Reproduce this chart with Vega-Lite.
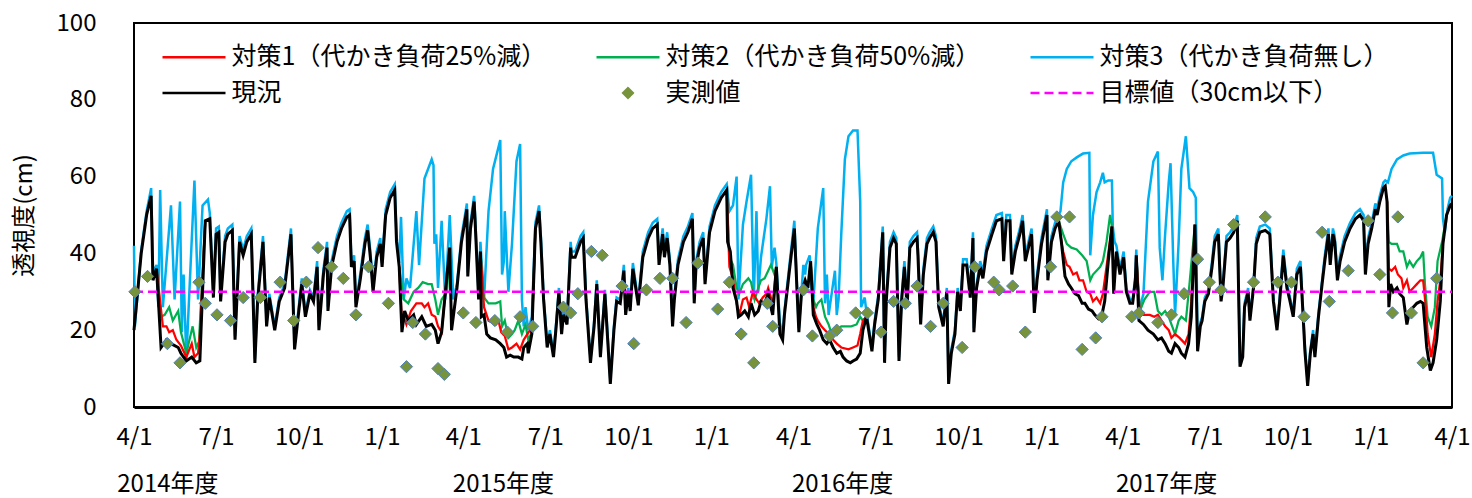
{
"$schema":"https://vega.github.io/schema/vega-lite/v6.json",
"width":1318,"height":384,
"autosize":{"type":"none"},
"padding":{"left":134,"top":23,"right":20,"bottom":91},
"background":"white",
"config":{"font":"Noto Sans CJK JP","view":{"stroke":"#000","strokeWidth":2},"axis":{"labelColor":"#000","titleColor":"#000","labelFont":"Noto Sans CJK JP","titleFont":"Noto Sans CJK JP"},"legend":{"labelFont":"Noto Sans CJK JP"}},
"datasets":{
"k":[
{"d":"2014-04-01","v":20},{"d":"2014-04-09","v":40},{"d":"2014-04-15","v":50},{"d":"2014-04-20","v":55},{"d":"2014-04-22","v":33},{"d":"2014-04-26","v":36},{"d":"2014-05-01","v":15.5},{"d":"2014-05-07","v":17.5},{"d":"2014-05-12","v":16.5},{"d":"2014-05-20","v":15.5},{"d":"2014-05-23","v":14},{"d":"2014-05-29","v":12},{"d":"2014-06-04","v":13},{"d":"2014-06-09","v":11.5},{"d":"2014-06-13","v":12},{"d":"2014-06-19","v":48.5},{"d":"2014-06-24","v":49},{"d":"2014-06-28","v":28.5},{"d":"2014-07-01","v":45},{"d":"2014-07-04","v":45.5},{"d":"2014-07-06","v":27.5},{"d":"2014-07-11","v":43},{"d":"2014-07-14","v":45},{"d":"2014-07-19","v":46},{"d":"2014-07-22","v":17.5},{"d":"2014-07-27","v":43},{"d":"2014-07-31","v":39.5},{"d":"2014-08-04","v":43},{"d":"2014-08-09","v":45},{"d":"2014-08-13","v":11.5},{"d":"2014-08-16","v":27.5},{"d":"2014-08-22","v":43},{"d":"2014-08-26","v":21},{"d":"2014-08-29","v":28.5},{"d":"2014-09-04","v":20},{"d":"2014-09-09","v":27.5},{"d":"2014-09-15","v":31},{"d":"2014-09-22","v":45},{"d":"2014-09-26","v":15},{"d":"2014-10-04","v":32},{"d":"2014-10-08","v":23.5},{"d":"2014-10-13","v":29.5},{"d":"2014-10-17","v":27.5},{"d":"2014-10-21","v":36.5},{"d":"2014-10-23","v":20},{"d":"2014-10-28","v":34.5},{"d":"2014-11-01","v":41.5},{"d":"2014-11-02","v":25},{"d":"2014-11-06","v":36.5},{"d":"2014-11-12","v":43},{"d":"2014-11-17","v":46.5},{"d":"2014-11-23","v":49.5},{"d":"2014-11-26","v":50},{"d":"2014-11-28","v":36.5},{"d":"2014-12-01","v":38},{"d":"2014-12-03","v":26},{"d":"2014-12-08","v":33.5},{"d":"2014-12-13","v":42.5},{"d":"2014-12-16","v":46},{"d":"2014-12-19","v":39},{"d":"2014-12-22","v":30},{"d":"2014-12-26","v":39},{"d":"2014-12-30","v":42.5},
{"d":"2015-01-01","v":36.5},{"d":"2015-01-05","v":50},{"d":"2015-01-10","v":54.5},{"d":"2015-01-15","v":56.5},{"d":"2015-01-17","v":43},{"d":"2015-01-20","v":36.5},{"d":"2015-01-23","v":19.5},{"d":"2015-01-26","v":25},{"d":"2015-01-30","v":22.5},{"d":"2015-02-05","v":24},{"d":"2015-02-08","v":21.5},{"d":"2015-02-14","v":23.5},{"d":"2015-02-19","v":21},{"d":"2015-02-25","v":21.5},{"d":"2015-03-01","v":20},{"d":"2015-03-04","v":16.5},{"d":"2015-03-08","v":19.5},{"d":"2015-03-12","v":29.5},{"d":"2015-03-17","v":41.5},{"d":"2015-03-19","v":20},{"d":"2015-03-25","v":31},{"d":"2015-03-30","v":43},{"d":"2015-04-05","v":51.5},{"d":"2015-04-06","v":34},{"d":"2015-04-09","v":46.5},{"d":"2015-04-13","v":53.5},{"d":"2015-04-14","v":49},{"d":"2015-04-18","v":28},{"d":"2015-04-20","v":40.5},{"d":"2015-04-21","v":23.5},{"d":"2015-04-24","v":24},{"d":"2015-04-27","v":19},{"d":"2015-05-01","v":18},{"d":"2015-05-07","v":17.5},{"d":"2015-05-12","v":16.5},{"d":"2015-05-16","v":15.5},{"d":"2015-05-19","v":13},{"d":"2015-05-23","v":13.5},{"d":"2015-05-27","v":13},{"d":"2015-06-01","v":13},{"d":"2015-06-05","v":12.5},{"d":"2015-06-07","v":15.5},{"d":"2015-06-11","v":16.5},{"d":"2015-06-12","v":14},{"d":"2015-06-16","v":19},{"d":"2015-06-20","v":46.5},{"d":"2015-06-24","v":51},{"d":"2015-06-26","v":43},{"d":"2015-06-29","v":28},{"d":"2015-07-03","v":15.5},{"d":"2015-07-06","v":19},{"d":"2015-07-10","v":13},{"d":"2015-07-13","v":21},{"d":"2015-07-16","v":30},{"d":"2015-07-19","v":19},{"d":"2015-07-21","v":24},{"d":"2015-07-25","v":21.5},{"d":"2015-07-29","v":41.5},{"d":"2015-07-30","v":39},{"d":"2015-08-03","v":39},{"d":"2015-08-09","v":43},{"d":"2015-08-12","v":44},{"d":"2015-08-15","v":28},{"d":"2015-08-20","v":11.5},{"d":"2015-08-24","v":21},{"d":"2015-08-27","v":32},{"d":"2015-08-31","v":13},{"d":"2015-09-05","v":29.5},{"d":"2015-09-11","v":6},{"d":"2015-09-15","v":20},{"d":"2015-09-18","v":27.5},{"d":"2015-09-22","v":27},{"d":"2015-09-26","v":35.5},{"d":"2015-09-28","v":24},{"d":"2015-10-01","v":30},{"d":"2015-10-03","v":25},{"d":"2015-10-06","v":36},{"d":"2015-10-12","v":26.5},{"d":"2015-10-17","v":39},{"d":"2015-10-23","v":44},{"d":"2015-10-28","v":46.5},{"d":"2015-11-02","v":47.5},{"d":"2015-11-04","v":37},{"d":"2015-11-08","v":45},{"d":"2015-11-10","v":39},{"d":"2015-11-13","v":44},{"d":"2015-11-16","v":37},{"d":"2015-11-19","v":21},{"d":"2015-11-21","v":28},{"d":"2015-11-25","v":37},{"d":"2015-12-01","v":43},{"d":"2015-12-06","v":45.5},{"d":"2015-12-11","v":49},{"d":"2015-12-13","v":27},{"d":"2015-12-15","v":36.5},{"d":"2015-12-19","v":41.5},{"d":"2015-12-23","v":44},{"d":"2015-12-25","v":32},{"d":"2015-12-30","v":45.5},
{"d":"2016-01-05","v":51},{"d":"2016-01-12","v":54.5},{"d":"2016-01-18","v":56.5},{"d":"2016-01-19","v":43},{"d":"2016-01-22","v":40.5},{"d":"2016-01-25","v":31},{"d":"2016-01-29","v":27.5},{"d":"2016-01-31","v":23.5},{"d":"2016-02-03","v":24},{"d":"2016-02-07","v":25},{"d":"2016-02-11","v":23.5},{"d":"2016-02-14","v":27},{"d":"2016-02-18","v":24},{"d":"2016-02-22","v":25},{"d":"2016-02-25","v":27.5},{"d":"2016-02-29","v":27},{"d":"2016-03-04","v":29.5},{"d":"2016-03-06","v":27},{"d":"2016-03-09","v":24},{"d":"2016-03-13","v":36.5},{"d":"2016-03-17","v":19},{"d":"2016-03-20","v":17.5},{"d":"2016-03-22","v":24},{"d":"2016-03-28","v":36.5},{"d":"2016-04-02","v":46.5},{"d":"2016-04-05","v":30},{"d":"2016-04-07","v":19.5},{"d":"2016-04-10","v":30},{"d":"2016-04-14","v":33},{"d":"2016-04-17","v":31},{"d":"2016-04-20","v":38},{"d":"2016-04-23","v":24},{"d":"2016-04-27","v":21.5},{"d":"2016-04-30","v":20},{"d":"2016-05-04","v":17.5},{"d":"2016-05-08","v":16.5},{"d":"2016-05-11","v":17.5},{"d":"2016-05-15","v":15.5},{"d":"2016-05-19","v":14},{"d":"2016-05-23","v":14.5},{"d":"2016-05-26","v":13},{"d":"2016-05-30","v":12},{"d":"2016-06-03","v":11.5},{"d":"2016-06-06","v":12},{"d":"2016-06-10","v":12.5},{"d":"2016-06-14","v":14},{"d":"2016-06-17","v":20},{"d":"2016-06-21","v":23.5},{"d":"2016-06-25","v":17.5},{"d":"2016-06-27","v":14.5},{"d":"2016-06-30","v":21.5},{"d":"2016-07-04","v":28},{"d":"2016-07-09","v":45.5},{"d":"2016-07-11","v":11.5},{"d":"2016-07-13","v":28},{"d":"2016-07-17","v":41.5},{"d":"2016-07-21","v":44},{"d":"2016-07-24","v":42.5},{"d":"2016-07-27","v":12},{"d":"2016-07-30","v":28},{"d":"2016-08-02","v":36.5},{"d":"2016-08-05","v":26},{"d":"2016-08-08","v":41.5},{"d":"2016-08-12","v":43},{"d":"2016-08-16","v":44},{"d":"2016-08-17","v":39.5},{"d":"2016-08-20","v":21.5},{"d":"2016-08-23","v":34.5},{"d":"2016-08-27","v":42.5},{"d":"2016-08-30","v":44},{"d":"2016-09-03","v":45.5},{"d":"2016-09-06","v":43},{"d":"2016-09-09","v":26},{"d":"2016-09-14","v":21},{"d":"2016-09-18","v":30},{"d":"2016-09-20","v":6},{"d":"2016-09-23","v":14},{"d":"2016-09-27","v":19},{"d":"2016-09-30","v":30},{"d":"2016-10-03","v":25},{"d":"2016-10-06","v":37},{"d":"2016-10-10","v":37},{"d":"2016-10-14","v":28.5},{"d":"2016-10-17","v":44},{"d":"2016-10-18","v":19.5},{"d":"2016-10-21","v":31},{"d":"2016-10-25","v":36.5},{"d":"2016-10-28","v":33.5},{"d":"2016-11-01","v":40.5},{"d":"2016-11-07","v":45},{"d":"2016-11-12","v":48.5},{"d":"2016-11-18","v":49},{"d":"2016-11-20","v":38},{"d":"2016-11-23","v":48.5},{"d":"2016-11-27","v":48.5},{"d":"2016-11-29","v":34.5},{"d":"2016-12-03","v":40.5},{"d":"2016-12-08","v":45},{"d":"2016-12-11","v":48.5},{"d":"2016-12-14","v":38},{"d":"2016-12-19","v":43},{"d":"2016-12-21","v":45},{"d":"2016-12-24","v":24.5},{"d":"2016-12-27","v":33},
{"d":"2017-01-01","v":42.5},{"d":"2017-01-05","v":47.5},{"d":"2017-01-07","v":50},{"d":"2017-01-08","v":33},{"d":"2017-01-12","v":43},{"d":"2017-01-16","v":46.5},{"d":"2017-01-20","v":48.5},{"d":"2017-01-23","v":43},{"d":"2017-01-27","v":34},{"d":"2017-01-31","v":32},{"d":"2017-02-03","v":31},{"d":"2017-02-07","v":29.5},{"d":"2017-02-11","v":29},{"d":"2017-02-15","v":27},{"d":"2017-02-18","v":27},{"d":"2017-02-22","v":25.5},{"d":"2017-02-26","v":25},{"d":"2017-03-01","v":24},{"d":"2017-03-05","v":23},{"d":"2017-03-09","v":24},{"d":"2017-03-12","v":27.5},{"d":"2017-03-16","v":38},{"d":"2017-03-20","v":47},{"d":"2017-03-22","v":29.5},{"d":"2017-03-25","v":40.5},{"d":"2017-03-29","v":34.5},{"d":"2017-04-02","v":39},{"d":"2017-04-05","v":30},{"d":"2017-04-09","v":27},{"d":"2017-04-12","v":27},{"d":"2017-04-15","v":33},{"d":"2017-04-16","v":39.5},{"d":"2017-04-19","v":22.5},{"d":"2017-04-24","v":21.5},{"d":"2017-04-29","v":20},{"d":"2017-05-05","v":19},{"d":"2017-05-10","v":17.5},{"d":"2017-05-14","v":18},{"d":"2017-05-18","v":16.5},{"d":"2017-05-22","v":14.5},{"d":"2017-05-25","v":14},{"d":"2017-05-29","v":16.5},{"d":"2017-06-02","v":15.5},{"d":"2017-06-05","v":14},{"d":"2017-06-09","v":13},{"d":"2017-06-13","v":16.5},{"d":"2017-06-16","v":23.5},{"d":"2017-06-20","v":47.5},{"d":"2017-06-23","v":14.5},{"d":"2017-06-26","v":21},{"d":"2017-06-28","v":22.5},{"d":"2017-07-01","v":27.5},{"d":"2017-07-05","v":29.5},{"d":"2017-07-09","v":36.5},{"d":"2017-07-12","v":43},{"d":"2017-07-16","v":45},{"d":"2017-07-19","v":27.5},{"d":"2017-07-21","v":31},{"d":"2017-07-25","v":43},{"d":"2017-07-29","v":44},{"d":"2017-08-02","v":45.5},{"d":"2017-08-06","v":48.5},{"d":"2017-08-09","v":10.5},{"d":"2017-08-12","v":13},{"d":"2017-08-14","v":26},{"d":"2017-08-18","v":30},{"d":"2017-08-20","v":22.5},{"d":"2017-08-24","v":31},{"d":"2017-08-27","v":42.5},{"d":"2017-08-31","v":45.5},{"d":"2017-09-06","v":46},{"d":"2017-09-11","v":45},{"d":"2017-09-15","v":27.5},{"d":"2017-09-19","v":20},{"d":"2017-09-22","v":27.5},{"d":"2017-09-26","v":39.5},{"d":"2017-09-30","v":31},{"d":"2017-10-03","v":28},{"d":"2017-10-07","v":23.5},{"d":"2017-10-11","v":34.5},{"d":"2017-10-15","v":36.5},{"d":"2017-10-18","v":23.5},{"d":"2017-10-20","v":14.5},{"d":"2017-10-23","v":5.5},{"d":"2017-10-26","v":14},{"d":"2017-10-29","v":19},{"d":"2017-10-31","v":13},{"d":"2017-11-04","v":23.5},{"d":"2017-11-08","v":32},{"d":"2017-11-11","v":38},{"d":"2017-11-15","v":45},{"d":"2017-11-17","v":37},{"d":"2017-11-20","v":45},{"d":"2017-11-22","v":43},{"d":"2017-11-25","v":33},{"d":"2017-11-28","v":38},{"d":"2017-12-03","v":43},{"d":"2017-12-09","v":46.5},{"d":"2017-12-15","v":49},{"d":"2017-12-20","v":50},{"d":"2017-12-24","v":48.5},{"d":"2017-12-26","v":34.5},{"d":"2017-12-29","v":42.5},
{"d":"2018-01-02","v":46.5},{"d":"2018-01-06","v":51.5},{"d":"2018-01-08","v":50},{"d":"2018-01-11","v":53.5},{"d":"2018-01-15","v":57},{"d":"2018-01-17","v":57.5},{"d":"2018-01-19","v":53.5},{"d":"2018-01-21","v":26},{"d":"2018-01-23","v":32},{"d":"2018-01-26","v":30},{"d":"2018-01-30","v":31},{"d":"2018-02-02","v":29.5},{"d":"2018-02-06","v":28.5},{"d":"2018-02-10","v":21.5},{"d":"2018-02-13","v":25},{"d":"2018-02-17","v":26},{"d":"2018-02-21","v":27},{"d":"2018-02-25","v":27.5},{"d":"2018-02-28","v":27},{"d":"2018-03-04","v":15.5},{"d":"2018-03-08","v":9.5},{"d":"2018-03-11","v":11.5},{"d":"2018-03-15","v":17.5},{"d":"2018-03-19","v":27.5},{"d":"2018-03-22","v":42.5},{"d":"2018-03-26","v":50},{"d":"2018-03-30","v":52.5},{"d":"2018-04-01","v":53}
],
"c":[
{"d":"2014-04-01","v":42},{"d":"2014-04-02","v":21},{"d":"2014-04-09","v":41},{"d":"2014-04-15","v":51},{"d":"2014-04-20","v":57},{"d":"2014-04-22","v":35},{"d":"2014-04-26","v":37},{"d":"2014-04-28","v":26},{"d":"2014-04-30","v":56.5},{"d":"2014-05-03","v":26},{"d":"2014-05-12","v":52.5},{"d":"2014-05-16","v":28},{"d":"2014-05-22","v":53.5},{"d":"2014-05-24","v":19.5},{"d":"2014-05-26","v":34.5},{"d":"2014-05-29","v":12.5},{"d":"2014-06-07","v":59},{"d":"2014-06-11","v":28},{"d":"2014-06-16","v":52.5},{"d":"2014-06-22","v":54},{"d":"2014-06-24","v":50.5},{"d":"2014-06-28","v":29.5},{"d":"2014-07-01","v":46.5},{"d":"2014-07-04","v":47},{"d":"2014-07-06","v":28.5},{"d":"2014-07-11","v":44.5},{"d":"2014-07-14","v":46.5},{"d":"2014-07-19","v":47.5},{"d":"2014-07-22","v":18.5},{"d":"2014-07-27","v":44.5},{"d":"2014-07-31","v":41},{"d":"2014-08-04","v":44.5},{"d":"2014-08-09","v":46.5},{"d":"2014-08-13","v":12.5},{"d":"2014-08-16","v":29},{"d":"2014-08-22","v":44.5},{"d":"2014-08-26","v":22},{"d":"2014-08-29","v":29.5},{"d":"2014-09-04","v":21},{"d":"2014-09-09","v":28.5},{"d":"2014-09-15","v":32},{"d":"2014-09-22","v":46.5},{"d":"2014-09-26","v":16},{"d":"2014-10-04","v":33.5},{"d":"2014-10-08","v":24.5},{"d":"2014-10-13","v":30.5},{"d":"2014-10-17","v":28.5},{"d":"2014-10-21","v":38},{"d":"2014-10-23","v":21},{"d":"2014-10-28","v":36},{"d":"2014-11-01","v":43},{"d":"2014-11-02","v":26},{"d":"2014-11-06","v":38},{"d":"2014-11-12","v":44.5},{"d":"2014-11-17","v":48},{"d":"2014-11-23","v":51},{"d":"2014-11-26","v":51.5},{"d":"2014-11-28","v":37.5},{"d":"2014-12-01","v":39.5},{"d":"2014-12-03","v":27},{"d":"2014-12-08","v":35},{"d":"2014-12-13","v":44},{"d":"2014-12-16","v":47.5},{"d":"2014-12-19","v":40.5},{"d":"2014-12-22","v":31},{"d":"2014-12-26","v":40.5},{"d":"2014-12-30","v":44},
{"d":"2015-01-01","v":37.5},{"d":"2015-01-05","v":51.5},{"d":"2015-01-10","v":56},{"d":"2015-01-15","v":58},{"d":"2015-01-17","v":44.5},{"d":"2015-01-20","v":37.5},{"d":"2015-01-22","v":49.5},{"d":"2015-01-25","v":28},{"d":"2015-01-28","v":33.5},{"d":"2015-02-01","v":31},{"d":"2015-02-08","v":51},{"d":"2015-02-11","v":37},{"d":"2015-02-17","v":59.5},{"d":"2015-02-25","v":64.5},{"d":"2015-02-27","v":63},{"d":"2015-02-28","v":42.5},{"d":"2015-03-02","v":45},{"d":"2015-03-04","v":31},{"d":"2015-03-08","v":48.5},{"d":"2015-03-12","v":28},{"d":"2015-03-17","v":50},{"d":"2015-03-21","v":28},{"d":"2015-03-25","v":32},{"d":"2015-03-30","v":44.5},{"d":"2015-04-05","v":53},{"d":"2015-04-06","v":35},{"d":"2015-04-09","v":48},{"d":"2015-04-13","v":55},{"d":"2015-04-14","v":50.5},{"d":"2015-04-18","v":29},{"d":"2015-04-20","v":43},{"d":"2015-04-24","v":28},{"d":"2015-04-29","v":51},{"d":"2015-05-04","v":62},{"d":"2015-05-12","v":69.5},{"d":"2015-05-14","v":34.5},{"d":"2015-05-16","v":38},{"d":"2015-05-17","v":51},{"d":"2015-05-21","v":30},{"d":"2015-05-25","v":42.5},{"d":"2015-05-30","v":64},{"d":"2015-06-03","v":68.5},{"d":"2015-06-05","v":28},{"d":"2015-06-07","v":21},{"d":"2015-06-09","v":26},{"d":"2015-06-12","v":20},{"d":"2015-06-16","v":23.5},{"d":"2015-06-20","v":48},{"d":"2015-06-24","v":52.5},{"d":"2015-06-26","v":44.5},{"d":"2015-06-29","v":29},{"d":"2015-07-03","v":16.5},{"d":"2015-07-06","v":20},{"d":"2015-07-10","v":14},{"d":"2015-07-13","v":22},{"d":"2015-07-16","v":31},{"d":"2015-07-19","v":20},{"d":"2015-07-21","v":25},{"d":"2015-07-25","v":22.5},{"d":"2015-07-29","v":43},{"d":"2015-07-30","v":40.5},{"d":"2015-08-03","v":40.5},{"d":"2015-08-09","v":44.5},{"d":"2015-08-12","v":45.5},{"d":"2015-08-15","v":29},{"d":"2015-08-20","v":12.5},{"d":"2015-08-24","v":22},{"d":"2015-08-27","v":33},{"d":"2015-08-31","v":14},{"d":"2015-09-05","v":30.5},{"d":"2015-09-11","v":7},{"d":"2015-09-15","v":21},{"d":"2015-09-18","v":28.5},{"d":"2015-09-22","v":28},{"d":"2015-09-26","v":37},{"d":"2015-09-28","v":25},{"d":"2015-10-01","v":31},{"d":"2015-10-03","v":26},{"d":"2015-10-06","v":37.5},{"d":"2015-10-12","v":27.5},{"d":"2015-10-17","v":40.5},{"d":"2015-10-23","v":45.5},{"d":"2015-10-28","v":48},{"d":"2015-11-02","v":49},{"d":"2015-11-04","v":38.5},{"d":"2015-11-08","v":46.5},{"d":"2015-11-10","v":40.5},{"d":"2015-11-13","v":45.5},{"d":"2015-11-16","v":38.5},{"d":"2015-11-19","v":22},{"d":"2015-11-21","v":29},{"d":"2015-11-25","v":38.5},{"d":"2015-12-01","v":44.5},{"d":"2015-12-06","v":47},{"d":"2015-12-11","v":50.5},{"d":"2015-12-13","v":28},{"d":"2015-12-15","v":38},{"d":"2015-12-19","v":43},{"d":"2015-12-23","v":45.5},{"d":"2015-12-25","v":33},{"d":"2015-12-30","v":47},
{"d":"2016-01-05","v":52.5},{"d":"2016-01-12","v":56},{"d":"2016-01-18","v":58},{"d":"2016-01-21","v":51},{"d":"2016-01-25","v":52.5},{"d":"2016-01-29","v":60},{"d":"2016-01-31","v":28},{"d":"2016-02-05","v":47.5},{"d":"2016-02-09","v":53.5},{"d":"2016-02-14","v":60.5},{"d":"2016-02-17","v":28},{"d":"2016-02-20","v":51},{"d":"2016-02-22","v":30},{"d":"2016-02-25","v":39},{"d":"2016-03-02","v":49},{"d":"2016-03-06","v":57.5},{"d":"2016-03-08","v":36.5},{"d":"2016-03-11","v":41.5},{"d":"2016-03-13","v":37.5},{"d":"2016-03-17","v":22},{"d":"2016-03-20","v":18.5},{"d":"2016-03-22","v":25},{"d":"2016-03-28","v":38},{"d":"2016-04-02","v":48.5},{"d":"2016-04-05","v":31},{"d":"2016-04-07","v":20.5},{"d":"2016-04-12","v":37},{"d":"2016-04-14","v":34.5},{"d":"2016-04-15","v":37},{"d":"2016-04-19","v":39.5},{"d":"2016-04-21","v":31},{"d":"2016-04-23","v":27},{"d":"2016-04-28","v":46.5},{"d":"2016-05-04","v":57},{"d":"2016-05-06","v":27},{"d":"2016-05-08","v":34.5},{"d":"2016-05-10","v":24},{"d":"2016-05-17","v":35.5},{"d":"2016-05-19","v":24},{"d":"2016-05-21","v":28},{"d":"2016-05-24","v":45},{"d":"2016-05-28","v":64.5},{"d":"2016-06-01","v":70.5},{"d":"2016-06-06","v":72},{"d":"2016-06-11","v":72},{"d":"2016-06-14","v":53.5},{"d":"2016-06-15","v":26},{"d":"2016-06-19","v":28.5},{"d":"2016-06-21","v":24.5},{"d":"2016-06-25","v":18.5},{"d":"2016-06-27","v":15.5},{"d":"2016-06-30","v":22.5},{"d":"2016-07-04","v":29},{"d":"2016-07-09","v":47},{"d":"2016-07-11","v":12.5},{"d":"2016-07-13","v":29},{"d":"2016-07-17","v":43},{"d":"2016-07-21","v":45.5},{"d":"2016-07-24","v":44},{"d":"2016-07-27","v":13},{"d":"2016-07-30","v":29},{"d":"2016-08-02","v":38},{"d":"2016-08-05","v":27},{"d":"2016-08-08","v":43},{"d":"2016-08-12","v":44.5},{"d":"2016-08-16","v":45.5},{"d":"2016-08-17","v":41},{"d":"2016-08-20","v":22.5},{"d":"2016-08-23","v":36},{"d":"2016-08-27","v":44},{"d":"2016-08-30","v":45.5},{"d":"2016-09-03","v":47},{"d":"2016-09-06","v":44.5},{"d":"2016-09-09","v":27},{"d":"2016-09-14","v":22},{"d":"2016-09-18","v":31},{"d":"2016-09-20","v":7},{"d":"2016-09-23","v":15},{"d":"2016-09-27","v":20},{"d":"2016-09-30","v":31},{"d":"2016-10-03","v":26},{"d":"2016-10-06","v":38.5},{"d":"2016-10-10","v":38.5},{"d":"2016-10-14","v":29.5},{"d":"2016-10-17","v":45.5},{"d":"2016-10-18","v":20.5},{"d":"2016-10-21","v":32},{"d":"2016-10-25","v":38},{"d":"2016-10-28","v":35},{"d":"2016-11-01","v":42},{"d":"2016-11-07","v":46.5},{"d":"2016-11-12","v":50},{"d":"2016-11-18","v":50.5},{"d":"2016-11-20","v":39.5},{"d":"2016-11-23","v":50},{"d":"2016-11-27","v":50},{"d":"2016-11-29","v":35.5},{"d":"2016-12-03","v":42},{"d":"2016-12-08","v":46.5},{"d":"2016-12-11","v":50},{"d":"2016-12-14","v":39.5},{"d":"2016-12-19","v":44.5},{"d":"2016-12-21","v":46.5},{"d":"2016-12-24","v":25.5},{"d":"2016-12-27","v":34.5},
{"d":"2017-01-01","v":44},{"d":"2017-01-05","v":49},{"d":"2017-01-07","v":51.5},{"d":"2017-01-08","v":34},{"d":"2017-01-12","v":44.5},{"d":"2017-01-16","v":48},{"d":"2017-01-20","v":50},{"d":"2017-01-22","v":51},{"d":"2017-01-25","v":58.5},{"d":"2017-01-29","v":62},{"d":"2017-02-03","v":64},{"d":"2017-02-09","v":65},{"d":"2017-02-16","v":66},{"d":"2017-02-23","v":66.2},{"d":"2017-02-24","v":39.5},{"d":"2017-02-26","v":46.5},{"d":"2017-02-27","v":50},{"d":"2017-03-03","v":56},{"d":"2017-03-07","v":58.5},{"d":"2017-03-10","v":61},{"d":"2017-03-12","v":58.5},{"d":"2017-03-16","v":59},{"d":"2017-03-20","v":59},{"d":"2017-03-21","v":47},{"d":"2017-03-23","v":43},{"d":"2017-03-25","v":42},{"d":"2017-03-29","v":36},{"d":"2017-04-02","v":40.5},{"d":"2017-04-05","v":31},{"d":"2017-04-09","v":28},{"d":"2017-04-12","v":28},{"d":"2017-04-15","v":34},{"d":"2017-04-16","v":41},{"d":"2017-04-19","v":25},{"d":"2017-04-24","v":29.5},{"d":"2017-04-29","v":53.5},{"d":"2017-05-05","v":64},{"d":"2017-05-10","v":66.5},{"d":"2017-05-12","v":41.5},{"d":"2017-05-15","v":33},{"d":"2017-05-18","v":45},{"d":"2017-05-22","v":58.5},{"d":"2017-05-24","v":63.5},{"d":"2017-05-27","v":38},{"d":"2017-05-29","v":24},{"d":"2017-06-02","v":43},{"d":"2017-06-05","v":62},{"d":"2017-06-10","v":70.5},{"d":"2017-06-14","v":57},{"d":"2017-06-18","v":56},{"d":"2017-06-21","v":54.5},{"d":"2017-06-23","v":16},{"d":"2017-06-26","v":22},{"d":"2017-06-28","v":23.5},{"d":"2017-07-01","v":28.5},{"d":"2017-07-05","v":30.5},{"d":"2017-07-09","v":38},{"d":"2017-07-12","v":44.5},{"d":"2017-07-16","v":46.5},{"d":"2017-07-19","v":28.5},{"d":"2017-07-21","v":32},{"d":"2017-07-25","v":44.5},{"d":"2017-07-29","v":45.5},{"d":"2017-08-02","v":47},{"d":"2017-08-06","v":50},{"d":"2017-08-09","v":11.5},{"d":"2017-08-12","v":14},{"d":"2017-08-14","v":27},{"d":"2017-08-18","v":31},{"d":"2017-08-20","v":23.5},{"d":"2017-08-24","v":32},{"d":"2017-08-27","v":44},{"d":"2017-08-31","v":47},{"d":"2017-09-06","v":47.5},{"d":"2017-09-11","v":46.5},{"d":"2017-09-15","v":28.5},{"d":"2017-09-19","v":21},{"d":"2017-09-22","v":28.5},{"d":"2017-09-26","v":41},{"d":"2017-09-30","v":32},{"d":"2017-10-03","v":29},{"d":"2017-10-07","v":24.5},{"d":"2017-10-11","v":36},{"d":"2017-10-15","v":38},{"d":"2017-10-18","v":24.5},{"d":"2017-10-20","v":15.5},{"d":"2017-10-23","v":6.5},{"d":"2017-10-26","v":15},{"d":"2017-10-29","v":20},{"d":"2017-10-31","v":14},{"d":"2017-11-04","v":24.5},{"d":"2017-11-08","v":33},{"d":"2017-11-11","v":39.5},{"d":"2017-11-15","v":46.5},{"d":"2017-11-17","v":38.5},{"d":"2017-11-20","v":46.5},{"d":"2017-11-22","v":44.5},{"d":"2017-11-25","v":34},{"d":"2017-11-28","v":39.5},{"d":"2017-12-03","v":44.5},{"d":"2017-12-09","v":48},{"d":"2017-12-15","v":50.5},{"d":"2017-12-20","v":51.5},{"d":"2017-12-24","v":50},{"d":"2017-12-26","v":35.5},{"d":"2017-12-29","v":44},
{"d":"2018-01-02","v":48},{"d":"2018-01-06","v":53},{"d":"2018-01-08","v":51.5},{"d":"2018-01-11","v":55},{"d":"2018-01-15","v":58.5},{"d":"2018-01-17","v":59},{"d":"2018-01-20","v":58.5},{"d":"2018-01-24","v":62},{"d":"2018-01-30","v":64.5},{"d":"2018-02-06","v":65.5},{"d":"2018-02-13","v":66},{"d":"2018-02-28","v":66.2},{"d":"2018-03-11","v":66.2},{"d":"2018-03-15","v":60.5},{"d":"2018-03-21","v":59.5},{"d":"2018-03-22","v":49},{"d":"2018-03-24","v":45.5},{"d":"2018-03-27","v":51.5},{"d":"2018-03-30","v":54.5},{"d":"2018-04-01","v":55}
],
"r":[
{"s":1,"d":"2014-04-26","v":36},{"s":1,"d":"2014-05-03","v":21},{"s":1,"d":"2014-05-07","v":21},{"s":1,"d":"2014-05-10","v":19.5},{"s":1,"d":"2014-05-14","v":20},{"s":1,"d":"2014-05-18","v":17.5},{"s":1,"d":"2014-05-23","v":16},{"s":1,"d":"2014-05-29","v":13},{"s":1,"d":"2014-06-04","v":16.5},{"s":1,"d":"2014-06-07","v":13},{"s":1,"d":"2014-06-11","v":14},{"s":1,"d":"2014-06-13","v":19},{"s":1,"d":"2014-06-19","v":48.5},
{"s":2,"d":"2015-01-20","v":36.5},{"s":2,"d":"2015-01-23","v":22},{"s":2,"d":"2015-01-25","v":23.5},{"s":2,"d":"2015-01-28","v":21.5},{"s":2,"d":"2015-02-02","v":25},{"s":2,"d":"2015-02-08","v":27},{"s":2,"d":"2015-02-14","v":27},{"s":2,"d":"2015-02-17","v":26},{"s":2,"d":"2015-02-21","v":27},{"s":2,"d":"2015-02-25","v":24},{"s":2,"d":"2015-03-01","v":23.5},{"s":2,"d":"2015-03-04","v":21},{"s":2,"d":"2015-03-08","v":19.5},{"s":2,"d":"2015-03-12","v":29.5},{"s":2,"d":"2015-03-17","v":41.5},
{"s":3,"d":"2015-04-20","v":40.5},{"s":3,"d":"2015-04-24","v":26},{"s":3,"d":"2015-04-29","v":22.5},{"s":3,"d":"2015-05-07","v":21.5},{"s":3,"d":"2015-05-10","v":22.5},{"s":3,"d":"2015-05-13","v":19.5},{"s":3,"d":"2015-05-17","v":18.5},{"s":3,"d":"2015-05-21","v":15},{"s":3,"d":"2015-05-25","v":15.5},{"s":3,"d":"2015-05-30","v":16.5},{"s":3,"d":"2015-06-03","v":15},{"s":3,"d":"2015-06-07","v":17.5},{"s":3,"d":"2015-06-11","v":19},{"s":3,"d":"2015-06-14","v":20},{"s":3,"d":"2015-06-16","v":19},{"s":3,"d":"2015-06-20","v":46.5},
{"s":4,"d":"2016-01-18","v":56.5},{"s":4,"d":"2016-01-21","v":36.5},{"s":4,"d":"2016-01-25","v":33.5},{"s":4,"d":"2016-01-29","v":27},{"s":4,"d":"2016-02-01","v":24},{"s":4,"d":"2016-02-05","v":28},{"s":4,"d":"2016-02-09","v":28.5},{"s":4,"d":"2016-02-12","v":26},{"s":4,"d":"2016-02-16","v":30},{"s":4,"d":"2016-02-20","v":28},{"s":4,"d":"2016-02-23","v":27},{"s":4,"d":"2016-02-27","v":28.5},{"s":4,"d":"2016-03-02","v":29.5},{"s":4,"d":"2016-03-04","v":31},{"s":4,"d":"2016-03-07","v":28.5},{"s":4,"d":"2016-03-09","v":26},{"s":4,"d":"2016-03-13","v":36.5},
{"s":5,"d":"2016-04-20","v":38},{"s":5,"d":"2016-04-23","v":26},{"s":5,"d":"2016-04-26","v":23.5},{"s":5,"d":"2016-04-28","v":22.5},{"s":5,"d":"2016-05-02","v":21},{"s":5,"d":"2016-05-06","v":20},{"s":5,"d":"2016-05-10","v":19},{"s":5,"d":"2016-05-15","v":17.5},{"s":5,"d":"2016-05-19","v":16.5},{"s":5,"d":"2016-05-24","v":15.5},{"s":5,"d":"2016-06-01","v":15},{"s":5,"d":"2016-06-06","v":15.5},{"s":5,"d":"2016-06-11","v":16},{"s":5,"d":"2016-06-14","v":19},{"s":5,"d":"2016-06-17","v":22.5},{"s":5,"d":"2016-06-21","v":23.5},
{"s":6,"d":"2017-01-20","v":48.5},{"s":6,"d":"2017-01-23","v":43},{"s":6,"d":"2017-01-25","v":40.5},{"s":6,"d":"2017-01-29","v":37},{"s":6,"d":"2017-02-01","v":36.5},{"s":6,"d":"2017-02-05","v":34.5},{"s":6,"d":"2017-02-09","v":35},{"s":6,"d":"2017-02-12","v":33},{"s":6,"d":"2017-02-16","v":33},{"s":6,"d":"2017-02-20","v":30},{"s":6,"d":"2017-02-24","v":29.5},{"s":6,"d":"2017-02-27","v":27.5},{"s":6,"d":"2017-03-03","v":28.5},{"s":6,"d":"2017-03-07","v":27},{"s":6,"d":"2017-03-10","v":29.5},{"s":6,"d":"2017-03-14","v":36.5},{"s":6,"d":"2017-03-16","v":40},{"s":6,"d":"2017-03-20","v":47},
{"s":7,"d":"2017-04-16","v":39.5},{"s":7,"d":"2017-04-20","v":24},{"s":7,"d":"2017-04-25","v":24},{"s":7,"d":"2017-05-01","v":24},{"s":7,"d":"2017-05-06","v":23.5},{"s":7,"d":"2017-05-10","v":24},{"s":7,"d":"2017-05-14","v":22.5},{"s":7,"d":"2017-05-18","v":21},{"s":7,"d":"2017-05-22","v":20},{"s":7,"d":"2017-05-25","v":18},{"s":7,"d":"2017-05-29","v":19},{"s":7,"d":"2017-06-03","v":18},{"s":7,"d":"2017-06-09","v":16.5},{"s":7,"d":"2017-06-13","v":19},{"s":7,"d":"2017-06-16","v":27.5},{"s":7,"d":"2017-06-20","v":47.5},
{"s":8,"d":"2018-01-19","v":53.5},{"s":8,"d":"2018-01-21","v":36},{"s":8,"d":"2018-01-24","v":35.5},{"s":8,"d":"2018-01-28","v":36.5},{"s":8,"d":"2018-01-31","v":34.5},{"s":8,"d":"2018-02-04","v":33.5},{"s":8,"d":"2018-02-06","v":31},{"s":8,"d":"2018-02-10","v":33},{"s":8,"d":"2018-02-13","v":30},{"s":8,"d":"2018-02-17","v":31},{"s":8,"d":"2018-02-21","v":32},{"s":8,"d":"2018-02-25","v":33},{"s":8,"d":"2018-02-28","v":33},{"s":8,"d":"2018-03-03","v":26},{"s":8,"d":"2018-03-05","v":19},{"s":8,"d":"2018-03-09","v":13},{"s":8,"d":"2018-03-13","v":19},{"s":8,"d":"2018-03-16","v":27.5},{"s":8,"d":"2018-03-19","v":33},{"s":8,"d":"2018-03-22","v":42.5}
],
"g":[
{"s":1,"d":"2014-04-26","v":36},{"s":1,"d":"2014-05-01","v":23.5},{"s":1,"d":"2014-05-05","v":24},{"s":1,"d":"2014-05-10","v":26},{"s":1,"d":"2014-05-14","v":22.5},{"s":1,"d":"2014-05-20","v":25},{"s":1,"d":"2014-05-23","v":19.5},{"s":1,"d":"2014-05-29","v":14},{"s":1,"d":"2014-06-05","v":21},{"s":1,"d":"2014-06-09","v":15.5},{"s":1,"d":"2014-06-12","v":17},{"s":1,"d":"2014-06-19","v":48.5},
{"s":2,"d":"2015-01-20","v":36.5},{"s":2,"d":"2015-01-25","v":28},{"s":2,"d":"2015-01-30","v":27},{"s":2,"d":"2015-02-05","v":30},{"s":2,"d":"2015-02-10","v":31},{"s":2,"d":"2015-02-15","v":32.5},{"s":2,"d":"2015-02-21","v":32},{"s":2,"d":"2015-02-25","v":32},{"s":2,"d":"2015-03-01","v":28},{"s":2,"d":"2015-03-04","v":24},{"s":2,"d":"2015-03-08","v":28},{"s":2,"d":"2015-03-14","v":30},{"s":2,"d":"2015-03-17","v":41.5},
{"s":3,"d":"2015-04-20","v":40.5},{"s":3,"d":"2015-04-24","v":28.5},{"s":3,"d":"2015-04-29","v":27},{"s":3,"d":"2015-05-07","v":27},{"s":3,"d":"2015-05-12","v":27.5},{"s":3,"d":"2015-05-14","v":21},{"s":3,"d":"2015-05-17","v":22.5},{"s":3,"d":"2015-05-21","v":18},{"s":3,"d":"2015-05-25","v":19},{"s":3,"d":"2015-05-28","v":20},{"s":3,"d":"2015-06-01","v":22.5},{"s":3,"d":"2015-06-05","v":19},{"s":3,"d":"2015-06-09","v":21.5},{"s":3,"d":"2015-06-12","v":17.5},{"s":3,"d":"2015-06-16","v":19.5},{"s":3,"d":"2015-06-20","v":46.5},
{"s":4,"d":"2016-01-18","v":56.5},{"s":4,"d":"2016-01-21","v":39},{"s":4,"d":"2016-01-25","v":37},{"s":4,"d":"2016-01-29","v":31},{"s":4,"d":"2016-02-01","v":29.5},{"s":4,"d":"2016-02-05","v":32},{"s":4,"d":"2016-02-11","v":33.5},{"s":4,"d":"2016-02-14","v":32.5},{"s":4,"d":"2016-02-18","v":28},{"s":4,"d":"2016-02-22","v":31},{"s":4,"d":"2016-02-25","v":33},{"s":4,"d":"2016-02-29","v":33.5},{"s":4,"d":"2016-03-04","v":35.5},{"s":4,"d":"2016-03-07","v":37},{"s":4,"d":"2016-03-11","v":34.5},{"s":4,"d":"2016-03-13","v":36.5},
{"s":5,"d":"2016-04-20","v":38},{"s":5,"d":"2016-04-23","v":28},{"s":5,"d":"2016-04-26","v":26},{"s":5,"d":"2016-04-28","v":27},{"s":5,"d":"2016-05-02","v":28},{"s":5,"d":"2016-05-06","v":23.5},{"s":5,"d":"2016-05-10","v":21.5},{"s":5,"d":"2016-05-12","v":20},{"s":5,"d":"2016-05-19","v":20},{"s":5,"d":"2016-05-24","v":21},{"s":5,"d":"2016-05-30","v":21},{"s":5,"d":"2016-06-04","v":21},{"s":5,"d":"2016-06-10","v":21.5},{"s":5,"d":"2016-06-14","v":23.5},{"s":5,"d":"2016-06-17","v":22.5},{"s":5,"d":"2016-06-21","v":23.5},
{"s":6,"d":"2017-01-20","v":48.5},{"s":6,"d":"2017-01-25","v":45},{"s":6,"d":"2017-01-29","v":42.5},{"s":6,"d":"2017-02-03","v":41.5},{"s":6,"d":"2017-02-09","v":41},{"s":6,"d":"2017-02-15","v":39.5},{"s":6,"d":"2017-02-20","v":38},{"s":6,"d":"2017-02-24","v":33},{"s":6,"d":"2017-02-27","v":34.5},{"s":6,"d":"2017-03-03","v":35.5},{"s":6,"d":"2017-03-07","v":36.5},{"s":6,"d":"2017-03-10","v":38},{"s":6,"d":"2017-03-14","v":43},{"s":6,"d":"2017-03-18","v":50},{"s":6,"d":"2017-03-20","v":47},
{"s":7,"d":"2017-04-16","v":39.5},{"s":7,"d":"2017-04-20","v":25},{"s":7,"d":"2017-04-25","v":28},{"s":7,"d":"2017-05-01","v":30},{"s":7,"d":"2017-05-06","v":30},{"s":7,"d":"2017-05-10","v":25},{"s":7,"d":"2017-05-14","v":24},{"s":7,"d":"2017-05-18","v":25},{"s":7,"d":"2017-05-22","v":23.5},{"s":7,"d":"2017-05-25","v":21.5},{"s":7,"d":"2017-05-29","v":19},{"s":7,"d":"2017-06-02","v":22.5},{"s":7,"d":"2017-06-05","v":23.5},{"s":7,"d":"2017-06-10","v":22.5},{"s":7,"d":"2017-06-14","v":32},{"s":7,"d":"2017-06-20","v":47.5},
{"s":8,"d":"2018-01-19","v":53.5},{"s":8,"d":"2018-01-21","v":43},{"s":8,"d":"2018-01-24","v":42.5},{"s":8,"d":"2018-01-30","v":42.5},{"s":8,"d":"2018-02-02","v":40.5},{"s":8,"d":"2018-02-06","v":40.5},{"s":8,"d":"2018-02-10","v":36.5},{"s":8,"d":"2018-02-13","v":38},{"s":8,"d":"2018-02-17","v":36.5},{"s":8,"d":"2018-02-21","v":38},{"s":8,"d":"2018-02-25","v":39},{"s":8,"d":"2018-02-28","v":40.5},{"s":8,"d":"2018-03-02","v":32},{"s":8,"d":"2018-03-05","v":23.5},{"s":8,"d":"2018-03-09","v":21},{"s":8,"d":"2018-03-13","v":26},{"s":8,"d":"2018-03-16","v":38},{"s":8,"d":"2018-03-21","v":43},{"s":8,"d":"2018-03-26","v":50}
],
"o":[
{"d":"2014-04-02","v":30},{"d":"2014-04-16","v":34},{"d":"2014-05-08","v":16.5},{"d":"2014-05-22","v":11.5},{"d":"2014-06-12","v":32.5},{"d":"2014-06-19","v":27},{"d":"2014-07-02","v":24},{"d":"2014-07-17","v":22.5},{"d":"2014-07-31","v":28.5},{"d":"2014-08-19","v":28.5},{"d":"2014-09-10","v":32.5},{"d":"2014-09-25","v":22.5},{"d":"2014-10-09","v":32.5},{"d":"2014-10-22","v":41.5},{"d":"2014-11-06","v":36.5},{"d":"2014-11-19","v":33.5},{"d":"2014-12-03","v":24},{"d":"2014-12-17","v":36.5},{"d":"2015-01-08","v":27},{"d":"2015-01-28","v":10.5},{"d":"2015-02-04","v":22},{"d":"2015-02-18","v":19},{"d":"2015-03-04","v":10},{"d":"2015-03-11","v":8.5},{"d":"2015-04-01","v":24.5},{"d":"2015-04-15","v":22},{"d":"2015-05-06","v":22.5},{"d":"2015-05-20","v":19.5},{"d":"2015-06-03","v":23.5},{"d":"2015-06-17","v":21},{"d":"2015-07-21","v":26},{"d":"2015-07-29","v":24.5},{"d":"2015-08-06","v":29.5},{"d":"2015-08-21","v":40.5},{"d":"2015-09-02","v":39.5},{"d":"2015-09-24","v":31.5},{"d":"2015-10-07","v":16.5},{"d":"2015-10-21","v":30.5},{"d":"2015-11-05","v":33.5},{"d":"2015-11-19","v":33.5},{"d":"2015-12-04","v":22},{"d":"2015-12-17","v":37.5},{"d":"2016-01-08","v":25.5},{"d":"2016-01-21","v":32.5},{"d":"2016-02-03","v":19},{"d":"2016-02-17","v":11.5},{"d":"2016-03-03","v":27},{"d":"2016-03-09","v":21},{"d":"2016-04-12","v":30.5},{"d":"2016-04-22","v":18.5},{"d":"2016-05-11","v":18.5},{"d":"2016-05-19","v":20},{"d":"2016-06-09","v":24.5},{"d":"2016-06-22","v":24.5},{"d":"2016-07-07","v":19.5},{"d":"2016-07-21","v":27.5},{"d":"2016-08-03","v":27},{"d":"2016-08-16","v":31.5},{"d":"2016-08-31","v":21},{"d":"2016-09-14","v":27},{"d":"2016-10-05","v":15.5},{"d":"2016-10-19","v":36.5},{"d":"2016-11-09","v":32.5},{"d":"2016-11-15","v":30.5},{"d":"2016-11-30","v":31.5},{"d":"2016-12-14","v":19.5},{"d":"2017-01-11","v":36.5},{"d":"2017-01-18","v":49.5},{"d":"2017-02-01","v":49.5},{"d":"2017-02-15","v":15},{"d":"2017-03-02","v":18},{"d":"2017-03-09","v":23.5},{"d":"2017-04-11","v":23.5},{"d":"2017-04-19","v":24.5},{"d":"2017-05-10","v":22},{"d":"2017-05-25","v":24},{"d":"2017-06-08","v":29.5},{"d":"2017-06-23","v":38.5},{"d":"2017-07-06","v":32.5},{"d":"2017-07-19","v":30.5},{"d":"2017-08-02","v":47.5},{"d":"2017-08-24","v":32.5},{"d":"2017-09-06","v":49.5},{"d":"2017-09-20","v":32.5},{"d":"2017-10-05","v":32.5},{"d":"2017-10-19","v":23.5},{"d":"2017-11-08","v":45.5},{"d":"2017-11-16","v":27.5},{"d":"2017-12-07","v":35.5},{"d":"2017-12-29","v":48.5},{"d":"2018-01-11","v":34.5},{"d":"2018-01-25","v":24.5},{"d":"2018-01-31","v":49.5},{"d":"2018-02-15","v":24.5},{"d":"2018-02-28","v":11.5},{"d":"2018-03-15","v":33.5}
],
"t":[{"d":"2014-04-01","v":30},{"d":"2018-04-01","v":30}]
},
"resolve":{"axis":{"x":"independent"}},
"layer":[
{"data":{"name":"c"},"mark":{"type":"line","strokeWidth":2.5},
 "encoding":{
  "x":{"field":"d","type":"temporal","scale":{"type":"utc","nice":false,"domain":[{"year":2014,"month":4,"date":1,"utc":true},{"year":2018,"month":4,"date":1,"utc":true}]},
   "axis":{"orient":"bottom","values":[{"year":2014,"month":4,"date":1,"utc":true},{"year":2014,"month":7,"date":1,"utc":true},{"year":2014,"month":10,"date":1,"utc":true},{"year":2015,"month":1,"date":1,"utc":true},{"year":2015,"month":4,"date":1,"utc":true},{"year":2015,"month":7,"date":1,"utc":true},{"year":2015,"month":10,"date":1,"utc":true},{"year":2016,"month":1,"date":1,"utc":true},{"year":2016,"month":4,"date":1,"utc":true},{"year":2016,"month":7,"date":1,"utc":true},{"year":2016,"month":10,"date":1,"utc":true},{"year":2017,"month":1,"date":1,"utc":true},{"year":2017,"month":4,"date":1,"utc":true},{"year":2017,"month":7,"date":1,"utc":true},{"year":2017,"month":10,"date":1,"utc":true},{"year":2018,"month":1,"date":1,"utc":true},{"year":2018,"month":4,"date":1,"utc":true}],
    "labelExpr":"utcFormat(datum.value, '%-m/%-d')","title":null,"grid":false,"ticks":false,"domain":true,"domainColor":"#000","domainWidth":3,"labelPadding":18,"labelFontSize":24,"labelFlush":false,"labelOverlap":false}},
  "y":{"field":"v","type":"quantitative","scale":{"domain":[0,100],"nice":false},
   "axis":{"values":[0,20,40,60,80,100],"title":"透視度(cm)","titleFontSize":24,"titleFontWeight":"normal","titlePadding":20,"labelFontSize":24,"labelPadding":38,"ticks":false,"domain":false,"grid":false}},
  "color":{"datum":"対策3（代かき負荷無し）",
   "scale":{"domain":["対策1（代かき負荷25%減）","対策2（代かき負荷50%減）","対策3（代かき負荷無し）","現況","実測値","目標値（30cm以下）"],"range":["#FF0000","#00B050","#00B0F0","#000000","#77933C","#FF00FF"]},
   "legend":{"title":null,"orient":"none","direction":"horizontal","legendX":47.5,"legendY":21.5,"columns":3,"padding":0,"rowPadding":10,"columnPadding":45,"labelFontSize":25,"labelColor":"#000","labelOffset":25,"labelLimit":600,"symbolType":"stroke","symbolSize":3969,"symbolStrokeWidth":2.5,
    "encode":{"symbols":{"update":{
     "shape":{"signal":"datum.value === '実測値' ? 'diamond' : 'stroke'"},
     "size":{"signal":"datum.value === '実測値' ? 150 : 3969"},
     "fill":{"signal":"datum.value === '実測値' ? '#77933C' : 'transparent'"},
     "stroke":{"signal":"datum.value === '実測値' ? '#4F81BD' : scale('color', datum.value)"},
     "strokeWidth":{"signal":"datum.value === '実測値' ? 1 : 2.5"},
     "strokeDash":{"signal":"datum.value === '目標値（30cm以下）' ? [9,5] : [1,0]"},
     "opacity":{"value":1}}}}}}
 }},
{"data":{"name":"g"},"mark":{"type":"line","strokeWidth":2.25},
 "encoding":{"x":{"field":"d","type":"temporal","axis":null},"y":{"field":"v","type":"quantitative"},"detail":{"field":"s"},"color":{"datum":"対策2（代かき負荷50%減）"}}},
{"data":{"name":"r"},"mark":{"type":"line","strokeWidth":2.25},
 "encoding":{"x":{"field":"d","type":"temporal","axis":null},"y":{"field":"v","type":"quantitative"},"detail":{"field":"s"},"color":{"datum":"対策1（代かき負荷25%減）"}}},
{"data":{"name":"k"},"mark":{"type":"line","strokeWidth":3},
 "encoding":{"x":{"field":"d","type":"temporal","axis":null},"y":{"field":"v","type":"quantitative"},"color":{"datum":"現況"}}},
{"data":{"name":"t"},"mark":{"type":"line","strokeWidth":2.5,"strokeDash":[9,5]},
 "encoding":{"x":{"field":"d","type":"temporal",
   "axis":{"orient":"bottom","values":[{"year":2014,"month":5,"date":8,"utc":true},{"year":2015,"month":5,"date":15,"utc":true},{"year":2016,"month":5,"date":25,"utc":true},{"year":2017,"month":5,"date":19,"utc":true}],
    "labelExpr":"utcFormat(datum.value, '%Y') + '年度'","offset":47,"labelPadding":18,"ticks":false,"domain":false,"grid":false,"title":null,"labelFontSize":24,"labelFlush":false,"labelOverlap":false}},
  "y":{"field":"v","type":"quantitative"},"color":{"datum":"目標値（30cm以下）"}}},
{"data":{"name":"o"},"mark":{"type":"point","shape":"diamond","filled":true,"size":150,"fill":"#77933C","stroke":"#4F81BD","strokeWidth":1,"opacity":1},
 "encoding":{"x":{"field":"d","type":"temporal","axis":null},"y":{"field":"v","type":"quantitative"}}}
]
}
